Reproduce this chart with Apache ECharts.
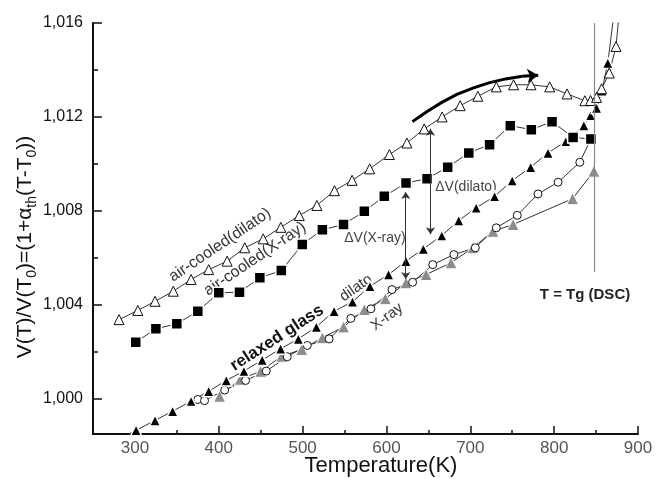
<!DOCTYPE html>
<html>
<head>
<meta charset="utf-8">
<script src="https://cdn.jsdelivr.net/npm/echarts@6/dist/echarts.min.js"></script>
<style>
  html, body { margin: 0; padding: 0; background: #fff; }
  #chart { width: 656px; height: 479px; }
</style>
</head>
<body>
<div id="chart"></div>
<script>
// ticks
const xLabelTicks = [300, 400, 500, 600, 700, 800, 900];
const xMinorTicks = [350, 450, 550, 650, 750, 850];
const yLabelTicks = [1.000, 1.004, 1.008, 1.012, 1.016];
const yMinorTicks = [1.002, 1.006, 1.010, 1.014];

// air-cooled, dilatometry (open triangles)
const airCooledDilato = [
  [281, 1.00337], [303.5, 1.00376], [324, 1.00415], [345.8, 1.00458], [367, 1.00508],
  [388, 1.00550], [410, 1.00586], [431, 1.00643], [453, 1.00681], [474, 1.00730],
  [496, 1.00780], [517, 1.00823], [538, 1.00886], [559, 1.00930], [580, 1.00979],
  [603.5, 1.01040], [624.4, 1.01089], [645, 1.01149], [666.4, 1.01200], [687.9, 1.01248],
  [709, 1.01288], [731, 1.01328], [751.6, 1.01337], [772.4, 1.01337], [794.7, 1.01328],
  [815.4, 1.01298], [836.6, 1.01269], [843.4, 1.01270], [850.6, 1.01283], [856.6, 1.01320],
  [865.7, 1.01387], [873.8, 1.01500], [878, 1.01660]
];

// air-cooled, X-ray (filled squares)
const airCooledXray = [
  [301, 1.00241], [325, 1.00298], [350, 1.00319], [375, 1.00373], [400, 1.00451],
  [424.7, 1.00454], [449, 1.00515], [474.6, 1.00546], [499.6, 1.00657], [523.6, 1.00720],
  [548.8, 1.00742], [573.6, 1.00798], [597.4, 1.00862], [623.3, 1.00919], [648.4, 1.00937],
  [673, 1.00986], [698.2, 1.01047], [723, 1.01082], [747.7, 1.01163], [772.8, 1.01146],
  [797.5, 1.01180], [822.6, 1.01113], [843.8, 1.01106]
];

// relaxed glass, dilatometry (filled triangles)
const relaxedDilato = [
  [280, 0.99825], [301.4, 0.99866], [324, 0.99908], [345, 0.99947], [367, 0.99990],
  [388, 1.00032], [409, 1.00078], [430, 1.00118], [451.8, 1.00165], [473.8, 1.00213],
  [494.9, 1.00255], [516.4, 1.00306], [537.6, 1.00373], [559.5, 1.00413], [580.3, 1.00479],
  [602.5, 1.00529], [623.3, 1.00586], [644, 1.00638], [666, 1.00695], [686.2, 1.00759],
  [707, 1.00813], [729, 1.00862], [750, 1.00929], [772, 1.00986], [792.7, 1.01047],
  [813.9, 1.01096], [835.4, 1.01164], [843.4, 1.01207], [850.6, 1.01238], [857, 1.01312],
  [864, 1.01430], [871, 1.01630]
];

// relaxed glass, X-ray (open circles)
const relaxedXray = [
  [375, 0.99997], [383, 0.99992], [407, 1.00037], [432, 1.00078], [456.6, 1.00118],
  [481.7, 1.00179], [505.6, 1.00227], [531.6, 1.00255], [557.5, 1.00342], [581.5, 1.00383],
  [606.6, 1.00465], [631.2, 1.00496], [655.2, 1.00571], [680.4, 1.00614], [706, 1.00643],
  [731, 1.00728], [756, 1.00781], [780.7, 1.00872], [804.7, 1.00922], [830.6, 1.01007]
];
const relaxedXrayEnd = [843.8, 1.01106];

// relaxed glass, X-ray second set (grey triangles)
const relaxedXrayGrey = [
  [401, 1.00011], [425.5, 1.00083], [449.9, 1.00117], [475, 1.00181], [499, 1.00210],
  [523.6, 1.00260], [548.8, 1.00306], [573.6, 1.00380], [598.7, 1.00426], [623.3, 1.00494],
  [647.3, 1.00529], [677, 1.00579], [703, 1.00643], [727, 1.00713], [751, 1.00742],
  [822, 1.00852], [847.4, 1.00969]
];

// annotations (data coordinates)
const tgLine = [[848, 1.0054], [848, 1.016]];
const deltaXrayArrow = [[623, 1.0088], [623, 1.0051]];
const deltaDilatoArrow = [[652.5, 1.0115], [652.5, 1.0070]];
const trendArrow = [[631, 1.0118], [648, 1.01222], [666, 1.01262], [684, 1.01296],
  [703, 1.01323], [722, 1.01345], [742, 1.01362], [762, 1.01373]];
const trendArrowTip = [[762, 1.01373], [781, 1.01378]];

const FONT = "'Liberation Sans', Arial, sans-serif";
const chart = echarts.init(document.getElementById('chart'));

function markerSeries(name, data, symbol, size, fill, border, borderWidth) {
  return {
    name, type: 'line', data, symbol, symbolSize: size,
    showAllSymbol: true, clip: true,
    lineStyle: { color: '#333', width: 1 },
    itemStyle: { color: fill, borderColor: border, borderWidth },
    emphasis: { disabled: true }
  };
}

function annot(name, pairs, opts) {
  return {
    name, type: 'line', data: [], silent: true,
    markLine: {
      silent: true, animation: false,
      symbol: opts.symbol, symbolSize: opts.symbolSize || 7,
      label: { show: false },
      lineStyle: Object.assign({ type: 'solid' }, opts.lineStyle),
      emphasis: { disabled: true },
      data: pairs.map(p => [{ coord: p[0] }, { coord: p[1] }])
    }
  };
}

const lbl = (text, x, y, deg, extra) => ({
  type: 'text', x, y, rotation: deg * Math.PI / 180, silent: true,
  style: Object.assign({
    text, font: '16px ' + FONT, fill: '#333', align: 'center', verticalAlign: 'middle'
  }, extra || {})
});

const tickStyle = { color: '#111', width: 1.5 };

chart.setOption({
  animation: false,
  grid: { left: 93, right: 18, top: 23, bottom: 45 },
  xAxis: [{
    type: 'value', min: 250, max: 900,
    axisLine: { lineStyle: { color: '#111', width: 2 } },
    axisTick: { inside: true, length: 8, customValues: xLabelTicks, lineStyle: tickStyle },
    axisLabel: { customValues: xLabelTicks, margin: 6, color: '#555', fontSize: 17, fontFamily: FONT },
    splitLine: { show: false }
  }, {
    type: 'value', min: 250, max: 900, position: 'bottom',
    axisLine: { show: false },
    axisTick: { show: true, inside: true, length: 4, customValues: xMinorTicks, lineStyle: tickStyle },
    axisLabel: { show: false },
    splitLine: { show: false }
  }],
  yAxis: [{
    type: 'value', min: 0.9985, max: 1.016,
    axisLine: { show: true, lineStyle: { color: '#111', width: 2 } },
    axisTick: { show: true, inside: true, length: 9, customValues: yLabelTicks, lineStyle: tickStyle },
    axisLabel: {
      customValues: yLabelTicks, margin: 10, color: '#111', fontSize: 16, fontFamily: FONT,
      formatter: v => v.toFixed(3).replace('.', ',')
    },
    splitLine: { show: false }
  }, {
    type: 'value', min: 0.9985, max: 1.016, position: 'left',
    axisLine: { show: false },
    axisTick: { show: true, inside: true, length: 5, customValues: yMinorTicks, lineStyle: tickStyle },
    axisLabel: { show: false },
    splitLine: { show: false }
  }],
  series: [
    markerSeries('relaxed X-ray (grey)', relaxedXrayGrey, 'triangle', 12, '#8c8c8c', '#fff', 1),
    markerSeries('relaxed X-ray', relaxedXray.concat([{ value: relaxedXrayEnd, symbol: 'none' }]), 'circle', 8, '#fff', '#111', 1),
    markerSeries('relaxed dilato', relaxedDilato, 'triangle', 11, '#000', '#fff', 1.5),
    markerSeries('air-cooled X-ray', airCooledXray, 'rect', 11, '#000', '#fff', 1.5),
    markerSeries('air-cooled dilato', airCooledDilato, 'triangle', 10, '#fff', '#111', 1),
    annot('Tg', [tgLine], { symbol: 'none', lineStyle: { color: '#888', width: 1.2 } }),
    annot('dV', [deltaXrayArrow, deltaDilatoArrow], { symbol: ['arrow', 'arrow'], symbolSize: 7, lineStyle: { color: '#333', width: 1 } }),
    {
      name: 'trend', type: 'lines', coordinateSystem: 'cartesian2d', polyline: true, silent: true,
      lineStyle: { color: '#000', width: 3, opacity: 1 },
      data: [{ coords: trendArrow }]
    },
    annot('trendTip', [trendArrowTip], { symbol: ['none', 'arrow'], symbolSize: 11, lineStyle: { color: '#000', width: 3 } })
  ],
  graphic: [
    lbl('air-cooled(dilato)', 220, 245, 34),
    lbl('air-cooled(X-ray)', 255, 259, 34),
    lbl('relaxed glass', 277, 338, 33, { font: 'bold 17px ' + FONT, fill: '#111' }),
    lbl('dilato', 356, 288, 35, { font: '15px ' + FONT }),
    lbl('X-ray', 387, 317, 37, { font: '15px ' + FONT }),
    lbl('\u0394V(X-ray)', 375, 238, 0, { font: '14px ' + FONT, fill: '#444' }),
    lbl('\u0394V(dilato)', 466, 187, 0, { font: '14px ' + FONT, fill: '#444' }),
    lbl('T = Tg (DSC)', 585, 295, 0, { font: 'bold 15px ' + FONT, fill: '#222' }),
    lbl('Temperature(K)', 381, 466, 0, { font: '22px ' + FONT, fill: '#111' }),
    {
      type: 'text', x: 25, y: 247, rotation: Math.PI / 2, silent: true,
      style: {
        text: '{a|V(T)/V(T}{s|0}{a|)=(1+\u03b1}{s|th}{a|(T-T}{s|0}{a|))}',
        align: 'center', verticalAlign: 'middle',
        rich: {
          a: { fontSize: 21, fontFamily: FONT, fill: '#111', lineHeight: 28, verticalAlign: 'middle' },
          s: { fontSize: 14, fontFamily: FONT, fill: '#111', lineHeight: 14, verticalAlign: 'bottom' }
        }
      }
    }
  ]
});
</script>
</body>
</html>
